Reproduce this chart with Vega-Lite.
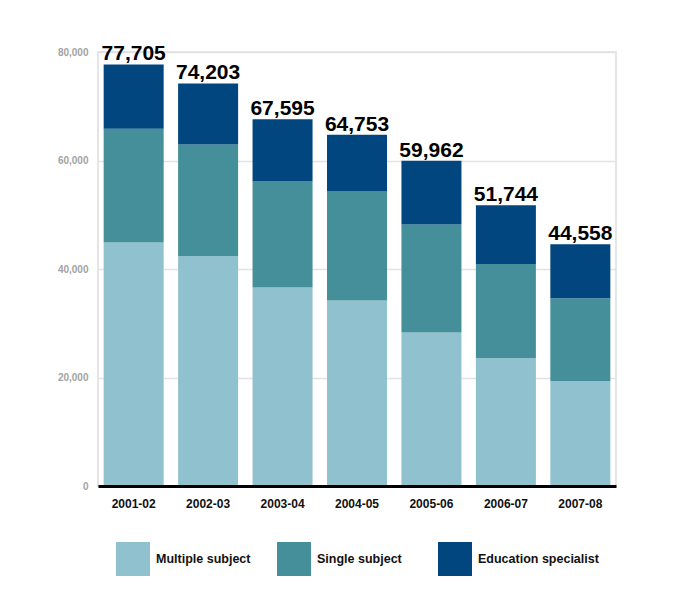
{
  "$schema": "https://vega.github.io/schema/vega-lite/v6.json",
  "autosize": "none",
  "width": 518,
  "height": 434,
  "padding": {"left": 98, "top": 52, "right": 70, "bottom": 110},
  "background": "white",
  "data": {
    "values": [
      {"year": "2001-02", "type": "Multiple subject", "credentials": 44900},
      {"year": "2001-02", "type": "Single subject", "credentials": 20960},
      {"year": "2001-02", "type": "Education specialist", "credentials": 11845},
      {"year": "2002-03", "type": "Multiple subject", "credentials": 42340},
      {"year": "2002-03", "type": "Single subject", "credentials": 20630},
      {"year": "2002-03", "type": "Education specialist", "credentials": 11233},
      {"year": "2003-04", "type": "Multiple subject", "credentials": 36600},
      {"year": "2003-04", "type": "Single subject", "credentials": 19550},
      {"year": "2003-04", "type": "Education specialist", "credentials": 11445},
      {"year": "2004-05", "type": "Multiple subject", "credentials": 34200},
      {"year": "2004-05", "type": "Single subject", "credentials": 20100},
      {"year": "2004-05", "type": "Education specialist", "credentials": 10453},
      {"year": "2005-06", "type": "Multiple subject", "credentials": 28300},
      {"year": "2005-06", "type": "Single subject", "credentials": 19900},
      {"year": "2005-06", "type": "Education specialist", "credentials": 11762},
      {"year": "2006-07", "type": "Multiple subject", "credentials": 23550},
      {"year": "2006-07", "type": "Single subject", "credentials": 17350},
      {"year": "2006-07", "type": "Education specialist", "credentials": 10844},
      {"year": "2007-08", "type": "Multiple subject", "credentials": 19300},
      {"year": "2007-08", "type": "Single subject", "credentials": 15300},
      {"year": "2007-08", "type": "Education specialist", "credentials": 9958}
    ]
  },
  "encoding": {
    "x": {
      "field": "year",
      "type": "nominal",
      "title": null,
      "scale": {"paddingInner": 0.194, "paddingOuter": 0.076},
      "axis": {
        "labelAngle": 0,
        "labelFont": "Liberation Sans",
        "labelFontWeight": "bold",
        "labelFontSize": 12,
        "labelColor": "#111111",
        "labelPadding": 12,
        "ticks": false,
        "domainColor": "#000000",
        "domainWidth": 3,
        "zindex": 2
      }
    }
  },
  "layer": [
    {
      "transform": [
        {"calculate": "indexof(['Multiple subject', 'Single subject', 'Education specialist'], datum.type)", "as": "stackOrder"}
      ],
      "mark": {"type": "bar"},
      "encoding": {
        "y": {
          "field": "credentials",
          "type": "quantitative",
          "stack": "zero",
          "title": null,
          "scale": {"domain": [0, 80000], "nice": false},
          "axis": {
            "values": [0, 20000, 40000, 60000, 80000],
            "format": ",d",
            "labelFont": "Liberation Sans",
            "labelFontSize": 10,
            "labelFontWeight": "bold",
            "labelColor": "#a3a3a3",
            "labelPadding": 10,
            "ticks": false,
            "domain": false,
            "gridColor": "#e2e2e2",
            "gridWidth": 1.5
          }
        },
        "order": {"field": "stackOrder", "type": "quantitative", "sort": "ascending"},
        "color": {
          "field": "type",
          "type": "nominal",
          "sort": ["Multiple subject", "Single subject", "Education specialist"],
          "scale": {
            "domain": ["Multiple subject", "Single subject", "Education specialist"],
            "range": ["#8fc1cf", "#448f9a", "#01467e"]
          },
          "legend": {
            "title": null,
            "orient": "none",
            "legendX": 18,
            "legendY": 490,
            "direction": "horizontal",
            "columns": 3,
            "gridAlign": "all",
            "columnPadding": -3,
            "padding": 0,
            "symbolType": "square",
            "symbolSize": 1156,
            "symbolStrokeWidth": 0,
            "symbolOpacity": 1,
            "labelOffset": 6,
            "labelFont": "Liberation Sans",
            "labelFontWeight": "bold",
            "labelFontSize": 12.5,
            "labelColor": "#111111",
            "labelLimit": 200
          }
        }
      }
    },
    {
      "transform": [
        {"aggregate": [{"op": "sum", "field": "credentials", "as": "total"}], "groupby": ["year"]}
      ],
      "mark": {
        "type": "text",
        "baseline": "alphabetic",
        "dy": -4,
        "font": "Liberation Sans",
        "fontWeight": "bold",
        "fontSize": 21,
        "color": "#000000"
      },
      "encoding": {
        "y": {"field": "total", "type": "quantitative"},
        "text": {"field": "total", "type": "quantitative", "format": ",d"}
      }
    }
  ],
  "config": {
    "view": {"stroke": "#dddddd", "strokeWidth": 1.5}
  }
}
